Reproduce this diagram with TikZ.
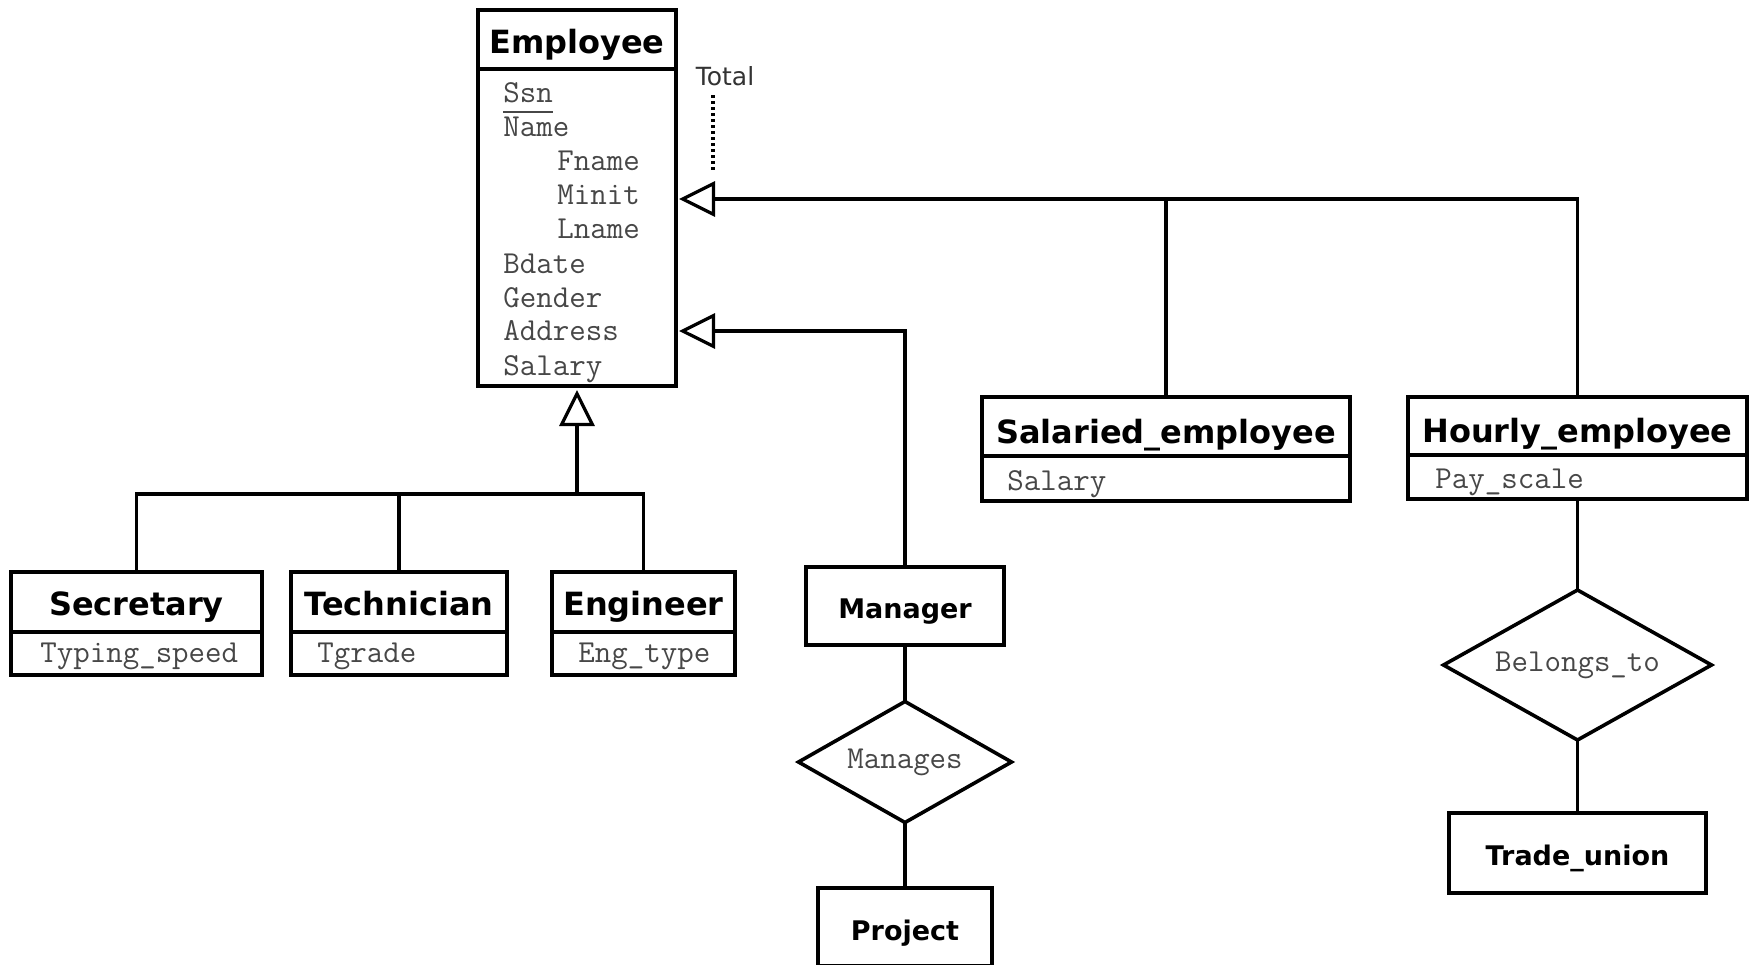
\documentclass[tikz,border=0pt]{standalone}
\usepackage{fontspec}
\newfontfamily\djv{DejaVu Sans}
\usetikzlibrary{shapes.geometric,arrows.meta,calc}
\newcommand\ttlbig{\djv\bfseries\fontsize{16}{19}\selectfont}
\newcommand\ttlsmall{\djv\bfseries\fontsize{13.5}{16}\selectfont}
\newcommand\attrf{\ttfamily\fontsize{16}{19}\selectfont}
\newcommand\totalf{\djv\fontsize{12.5}{15}\selectfont}
\begin{document}
\begin{tikzpicture}[x=0.5pt,y=-0.5pt,
  box/.style={draw, line width=1.8pt, inner sep=0pt, outer sep=0pt, anchor=north west},
  sep/.style={line width=1.8pt},
  ttl/.style={font=\ttlbig, inner sep=0pt, anchor=base},
  ttlsm/.style={font=\ttlsmall, inner sep=0pt, anchor=base},
  attr/.style={font=\attrf, text=black!72, inner sep=0pt, anchor=base west},
  link/.style={line width=1.6pt},
  isa/.style={link, -{Triangle[open, length=18pt, width=17.5pt]}},
  rel/.style={draw, diamond, aspect=1.8, line width=1.8pt, inner sep=0pt, outer sep=0pt,
              font=\attrf, text=black!72},
  uline/.style={line width=0.9pt, black!72}]
\useasboundingbox (0,0) rectangle (1755,964);
\clip (0,0) rectangle (1755,964);
\fill[white] (0,0) rectangle (1755,964);

% ---- Employee superclass ----
\node[box, minimum width=99pt, minimum height=188pt] (emp) at (478,10) {};
\draw[sep] (emp.west |- 0,69) -- (emp.east |- 0,69);
\node[ttl] (empT) at (emp.north |- 0,53) {Employee};
\node[attr] (eSsn) at (503,102) {Ssn};
\draw[uline] ([yshift=-5pt]eSsn.base west) -- ([yshift=-5pt]eSsn.base east);
\node[attr] (eName) at (503,136) {Name};
\node[attr] (eFname) at (557,170) {Fname};
\node[attr] (eMinit) at (557,204) {Minit};
\node[attr] (eLname) at (557,238) {Lname};
\node[attr] (eBdate) at (503,273) {Bdate};
\node[attr] (eGender) at (503,307) {Gender};
\node[attr] (eAddress) at (503,340) {Address};
\node[attr] (eSalary) at (503,375) {Salary};

% ---- Subclasses below Employee ----
\node[box, minimum width=125.5pt, minimum height=51.5pt] (sec) at (11,572) {};
\draw[sep] (sec.west |- 0,632) -- (sec.east |- 0,632);
\node[ttl] (secT) at (sec.north |- 0,615) {Secretary};
\node[attr] (secA) at (40,662) {Typing\_speed};

\node[box, minimum width=108pt, minimum height=51.5pt] (tech) at (291,572) {};
\draw[sep] (tech.west |- 0,632) -- (tech.east |- 0,632);
\node[ttl] (techT) at (tech.north |- 0,615) {Technician};
\node[attr] (techA) at (317,662) {Tgrade};

\node[box, minimum width=91.5pt, minimum height=51.5pt] (eng) at (552,572) {};
\draw[sep] (eng.west |- 0,632) -- (eng.east |- 0,632);
\node[ttl] (engT) at (eng.north |- 0,615) {Engineer};
\node[attr] (engA) at (578,662) {Eng\_type};

% ---- Subclasses on the right ----
\node[box, minimum width=184pt, minimum height=52pt] (sal) at (982,397) {};
\draw[sep] (sal.west |- 0,456) -- (sal.east |- 0,456);
\node[ttl] (salT) at (sal.north |- 0,443) {Salaried\_employee};
\node[attr] (salA) at (1007,490) {Salary};

\node[box, minimum width=169.5pt, minimum height=51pt] (hour) at (1408,397) {};
\draw[sep] (hour.west |- 0,455) -- (hour.east |- 0,455);
\node[ttl] (hourT) at (hour.north |- 0,442) {Hourly\_employee};
\node[attr] (hourA) at (1435,488) {Pay\_scale};

% ---- Manager branch ----
\node[box, minimum width=99pt, minimum height=39pt] (mgr) at (806,567) {};
\node[ttlsm] (mgrT) at (mgr.north |- 0,618) {Manager};
\node[rel, minimum width=106.5pt, minimum height=60.5pt] (manages) at (mgr.south |- 0,762) {Manages};
\node[box, anchor=north, minimum width=87pt, minimum height=39pt] (proj) at (mgr.south |- 0,888) {};
\node[ttlsm] (projT) at (proj.north |- 0,940) {Project};

% ---- Hourly branch ----
\node[rel, minimum width=134pt, minimum height=75pt] (belongs) at (hour.south |- 0,665) {Belongs\_to};
\node[box, anchor=north, minimum width=128.5pt, minimum height=40pt] (tu) at (hour.south |- 0,813) {};
\node[ttlsm] (tuT) at (tu.north |- 0,865) {Trade\_union};

% ---- Connector anchors ----
\coordinate (t1) at ($(emp.north east)+(3,189)$);
\coordinate (t2) at ($(emp.north east)+(3,321)$);
\coordinate (t3) at ($(emp.south)+(0,4)$);
\coordinate (jbar) at ($(emp.south)+(0,108)$);
\coordinate (tp) at ($(t1)+(34,-104)$);
\coordinate (tq) at ($(t1)+(34,-26)$);

% ---- Generalisation connectors ----
\draw[isa] (hour.north) |- (t1);
\draw[link] (sal.north) -- (sal.north |- t1);
\draw[isa] (mgr.north) |- (t2);
\draw[isa] (jbar) -- (t3);
\draw[link] (sec.north) |- (jbar) -| (eng.north);
\draw[link] (tech.north) -- (tech.north |- jbar);

% ---- Total participation note ----
\node[font=\totalf, text=black!80, inner sep=0pt] (total) at (725,76) {Total};
\draw[line width=1.6pt, dash pattern=on 1.5pt off 1.5pt] (tp) -- (tq);

% ---- Relationship connectors ----
\draw[link] (mgr.south) -- (manages.north);
\draw[link] (manages.south) -- (proj.north);
\draw[link] (hour.south) -- (belongs.north);
\draw[link] (belongs.south) -- (tu.north);
\end{tikzpicture}
\end{document}
